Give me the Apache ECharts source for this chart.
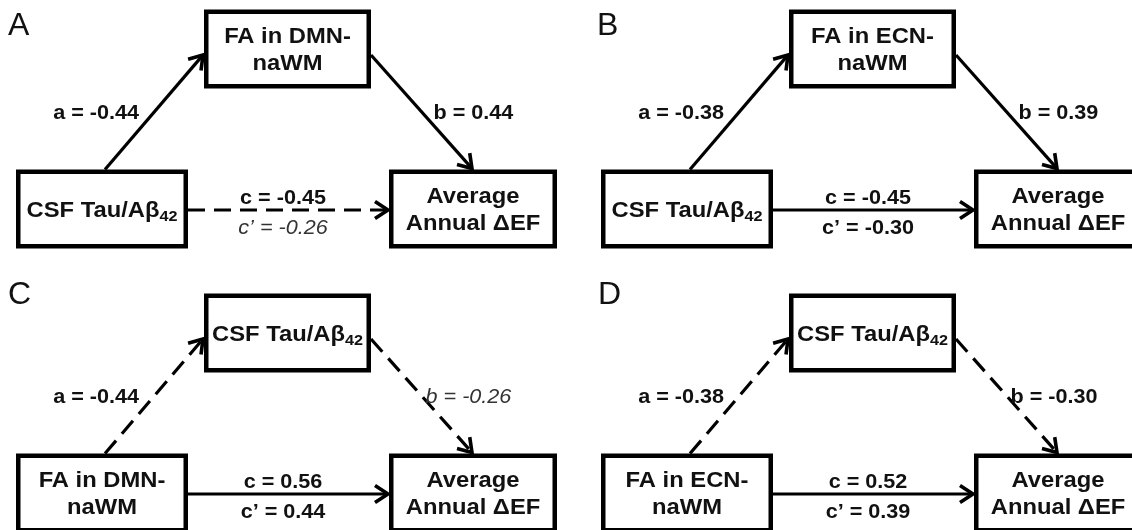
<!DOCTYPE html>
<html>
<head>
<meta charset="utf-8">
<script src="https://cdn.jsdelivr.net/npm/echarts@6/dist/echarts.min.js"></script>
<style>
html, body { margin: 0; padding: 0; background: #fff; }
#chart { width: 1132px; height: 530px; }
</style>
</head>
<body>
<div id="chart"></div>
<script>
// panel letters
const panels = ['A', 'B', 'C', 'D'];

// node names per panel: predictor, mediator, outcome
const nodesA = ['CSF Tau/Aβ42', 'FA in DMN-\nnaWM', 'Average\nAnnual ΔEF'];
const nodesB = ['CSF Tau/Aβ42', 'FA in ECN-\nnaWM', 'Average\nAnnual ΔEF'];
const nodesC = ['FA in DMN-\nnaWM', 'CSF Tau/Aβ42', 'Average\nAnnual ΔEF'];
const nodesD = ['FA in ECN-\nnaWM', 'CSF Tau/Aβ42', 'Average\nAnnual ΔEF'];

// path coefficients: a, b, c, c'
const coefA = ['a = -0.44', 'b = 0.44', 'c = -0.45', 'c’ = -0.26'];
const coefB = ['a = -0.38', 'b = 0.39', 'c = -0.45', 'c’ = -0.30'];
const coefC = ['a = -0.44', 'b = -0.26', 'c = 0.56', 'c’ = 0.44'];
const coefD = ['a = -0.38', 'b = -0.30', 'c = 0.52', 'c’ = 0.39'];

// dashed paths: a, b, c
const dashedA = [0, 0, 1];
const dashedB = [0, 0, 0];
const dashedC = [1, 1, 0];
const dashedD = [1, 1, 0];

// coefficients printed in italic: a, b, c, c'
const italicA = [0, 0, 0, 1];
const italicB = [0, 0, 0, 0];
const italicC = [0, 1, 0, 0];
const italicD = [0, 0, 0, 0];

// diagram layout in axis units: predictor, mediator, outcome
const nodeX = [0, 1, 2];
const nodeY = [0, 1, 0];
// paths a, b, c as [from, to]
const paths = [[0, 1], [1, 2], [0, 2]];

const allNodes = [nodesA, nodesB, nodesC, nodesD];
const allCoef = [coefA, coefB, coefC, coefD];
const allDashed = [dashedA, dashedB, dashedC, dashedD];
const allItalic = [italicA, italicB, italicC, italicD];

const FONT = '"Liberation Sans", Arial, sans-serif';
const BOX_W = [172, 167, 168];
const BOX_H = 79;
const BORDER = 4.5;
const LINE_W = 3.2;

const gridPos = [
  { left: 102, top: 49 },
  { left: 687, top: 49 },
  { left: 102, top: 333 },
  { left: 687, top: 333 }
];
const letterPos = [
  { left: 8, top: 10 },
  { left: 597, top: 10 },
  { left: 8, top: 279 },
  { left: 598, top: 279 }
];

const chart = echarts.init(document.getElementById('chart'));

const boxText = name => name.replace(/42$/, '{sub|42}');

const renderNodes = names => (params, api) => {
  const i = params.dataIndex;
  const c = api.coord([api.value(0), api.value(1)]);
  const w = BOX_W[i];
  return {
    type: 'group',
    children: [
      {
        type: 'rect',
        shape: {
          x: c[0] - w / 2 + BORDER / 2,
          y: c[1] - BOX_H / 2 + BORDER / 2,
          width: w - BORDER,
          height: BOX_H - BORDER
        },
        style: { fill: '#fff', stroke: '#000', lineWidth: BORDER }
      },
      {
        type: 'text',
        x: c[0],
        y: c[1] + 1.5,
        scaleX: 1.08,
        style: {
          text: boxText(names[i]),
          x: 0,
          y: 0,
          align: 'center',
          verticalAlign: 'middle',
          fill: '#111',
          fontSize: 22,
          fontWeight: 'bold',
          fontFamily: FONT,
          lineHeight: 27,
          rich: {
            sub: {
              fontSize: 15,
              fontWeight: 'bold',
              fontFamily: FONT,
              lineHeight: 15,
              verticalAlign: 'bottom',
              fill: '#111'
            }
          }
        }
      }
    ]
  };
};

const labelEl = (text, x, y, align, italic) => ({
  type: 'text',
  x: x,
  y: y,
  scaleX: 1.08,
  style: {
    text: text,
    x: 0,
    y: 0,
    align: align,
    verticalAlign: 'middle',
    fill: italic ? '#333' : '#111',
    fontSize: 20,
    fontWeight: italic ? 'normal' : 'bold',
    fontStyle: italic ? 'italic' : 'normal',
    fontFamily: FONT
  }
});

const renderPaths = (coef, dashed, italic) => (params, api) => {
  const k = params.dataIndex;
  const from = api.value(0);
  const to = api.value(1);
  const p = api.coord([nodeX[from], nodeY[from]]);
  const q = api.coord([nodeX[to], nodeY[to]]);
  let s, e;
  if (nodeY[to] > nodeY[from]) {
    s = [p[0] + 3, p[1] - BOX_H / 2];
    e = [q[0] - BOX_W[to] / 2 - 1, q[1] + 6];
  } else if (nodeY[to] < nodeY[from]) {
    s = [p[0] + BOX_W[from] / 2, p[1] + 6];
    e = [q[0] - 1, q[1] - BOX_H / 2 - 1];
  } else {
    s = [p[0] + BOX_W[from] / 2, p[1] + 1];
    e = [q[0] - BOX_W[to] / 2 - 1, q[1] + 1];
  }
  const len = Math.hypot(e[0] - s[0], e[1] - s[1]);
  const d = [(e[0] - s[0]) / len, (e[1] - s[1]) / len];
  const n = [-d[1], d[0]];
  const L = 13, W = 8.5;
  const children = [
    {
      type: 'line',
      shape: { x1: s[0], y1: s[1], x2: e[0] - d[0] * 1.5, y2: e[1] - d[1] * 1.5 },
      style: {
        stroke: '#000',
        lineWidth: LINE_W,
        lineDash: dashed[k] ? [17, 9] : null
      }
    },
    {
      type: 'polyline',
      shape: {
        points: [
          [e[0] - d[0] * L + n[0] * W, e[1] - d[1] * L + n[1] * W],
          [e[0], e[1]],
          [e[0] - d[0] * L - n[0] * W, e[1] - d[1] * L - n[1] * W]
        ]
      },
      style: { stroke: '#000', fill: null, lineWidth: 3.6, lineJoin: 'miter' }
    }
  ];
  const mx = (s[0] + e[0]) / 2;
  const my = (s[1] + e[1]) / 2 + 1.5;
  if (k === 0) {
    children.push(labelEl(coef[0], mx - 15, my, 'right', italic[0]));
  } else if (k === 1) {
    children.push(labelEl(coef[1], mx + (dashed[1] ? 4 : 12), my, 'left', italic[1]));
  } else {
    children.push(labelEl(coef[2], mx - 5, my - 13, 'center', italic[2]));
    children.push(labelEl(coef[3], mx - 5, my + 17, 'center', italic[3]));
  }
  return { type: 'group', children: children };
};

const series = [];
panels.forEach((p, i) => {
  series.push({
    type: 'custom',
    xAxisIndex: i,
    yAxisIndex: i,
    z: 1,
    clip: false,
    silent: true,
    data: paths,
    renderItem: renderPaths(allCoef[i], allDashed[i], allItalic[i])
  });
  series.push({
    type: 'custom',
    xAxisIndex: i,
    yAxisIndex: i,
    z: 2,
    clip: false,
    silent: true,
    data: nodeX.map((x, j) => [x, nodeY[j]]),
    renderItem: renderNodes(allNodes[i])
  });
});

chart.setOption({
  animation: false,
  backgroundColor: '#fff',
  title: panels.map((p, i) => ({
    text: p,
    left: letterPos[i].left,
    top: letterPos[i].top,
    padding: 0,
    textStyle: { fontSize: 32, fontWeight: 'normal', color: '#111', fontFamily: FONT }
  })),
  grid: gridPos.map(g => ({ left: g.left, top: g.top, width: 371, height: 160 })),
  xAxis: panels.map((p, i) => ({ type: 'value', gridIndex: i, min: 0, max: 2, show: false })),
  yAxis: panels.map((p, i) => ({ type: 'value', gridIndex: i, min: 0, max: 1, show: false })),
  series: series
});
</script>
</body>
</html>
